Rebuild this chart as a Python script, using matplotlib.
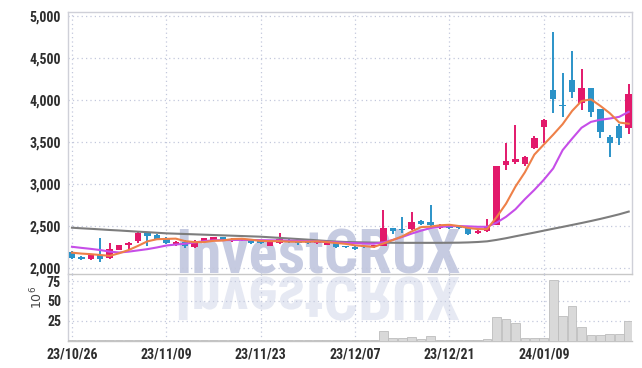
import numpy as np
import matplotlib
matplotlib.use("Agg")
import matplotlib.pyplot as plt
from matplotlib import font_manager
from matplotlib.textpath import TextPath
from matplotlib.patches import PathPatch
from matplotlib.font_manager import FontProperties
from matplotlib.transforms import Affine2D, IdentityTransform

# daily candles 23/10/26 .. 24/01/22 (60 trading days)
opens = [2185, 2135, 2103, 2150, 2115, 2218, 2274, 2327, 2413, 2389,
         2353, 2274, 2313, 2246, 2325, 2325, 2365, 2335, 2330, 2321,
         2321, 2265, 2294, 2333, 2320, 2321, 2294, 2280, 2300, 2258,
         2253, 2255, 2246, 2265, 2476, 2455, 2464, 2563, 2547, 2476,
         2500, 2478, 2476, 2413, 2437, 2516, 3230, 3265, 3234, 3428,
         3674, 4119, 3935, 4238, 3969, 4140, 3889, 3555, 3690, 3662]
closes = [2120, 2105, 2165, 2110, 2225, 2274, 2298, 2413, 2380, 2349,
          2294, 2313, 2262, 2325, 2353, 2365, 2333, 2348, 2345, 2294,
          2294, 2321, 2345, 2306, 2300, 2294, 2321, 2321, 2253, 2253,
          2230, 2250, 2270, 2476, 2437, 2450, 2547, 2524, 2508, 2516,
          2480, 2474, 2405, 2444, 2491, 3214, 3274, 3297, 3317, 3547,
          3762, 4016, 3925, 4099, 4140, 3861, 3623, 3492, 3543, 4071]
highs = [2200, 2140, 2170, 2353, 2294, 2280, 2305, 2425, 2420, 2400,
         2370, 2320, 2330, 2330, 2360, 2372, 2370, 2355, 2350, 2325,
         2325, 2325, 2413, 2340, 2325, 2330, 2325, 2330, 2305, 2265,
         2258, 2262, 2275, 2690, 2480, 2603, 2666, 2570, 2746, 2520,
         2510, 2490, 2480, 2450, 2580, 3214, 3484, 3698, 3333, 3571,
         3770, 4813, 4317, 4587, 4364, 4140, 3889, 3583, 3714, 4190]
lows = [2110, 2095, 2100, 2075, 2110, 2210, 2215, 2300, 2265, 2330,
        2285, 2260, 2234, 2240, 2320, 2320, 2330, 2310, 2325, 2290,
        2290, 2260, 2285, 2300, 2280, 2290, 2290, 2275, 2240, 2240,
        2220, 2240, 2240, 2260, 2400, 2413, 2455, 2515, 2500, 2470,
        2470, 2460, 2395, 2405, 2430, 2510, 3170, 3238, 3214, 3420,
        3484, 3841, 3793, 4020, 3880, 3793, 3543, 3325, 3460, 3595]
volume = [0.6, 0.5, 0.7, 0.9, 0.8, 0.6, 0.5, 0.9, 0.7, 0.6,
          0.5, 0.5, 0.6, 0.7, 0.5, 0.5, 0.4, 0.4, 0.5, 0.4,
          0.4, 0.5, 0.9, 0.5, 0.4, 0.4, 0.5, 0.5, 0.6, 0.5,
          0.6, 0.5, 0.6, 12.0, 3.5, 3.5, 4.4, 2.5, 5.7, 1.0,
          0.8, 0.6, 1.0, 0.8, 1.5, 29.7, 27.0, 21.7, 3.0, 3.5,
          3.5, 76.0, 30.5, 43.0, 17.0, 6.5, 6.5, 7.8, 7.8, 24.6]
ma5 = [2183, 2172, 2165, 2155, 2145, 2176, 2214, 2264, 2318, 2343,
       2347, 2350, 2320, 2309, 2309, 2324, 2328, 2345, 2349, 2337,
       2323, 2320, 2320, 2314, 2313, 2313, 2317, 2309, 2298, 2288,
       2270, 2261, 2251, 2292, 2333, 2377, 2436, 2487, 2493, 2509,
       2515, 2500, 2477, 2464, 2463, 2606, 2766, 2970, 3140, 3350,
       3470, 3588, 3713, 3870, 3988, 4008, 3930, 3843, 3732, 3718]
ma20 = [2253, 2240, 2228, 2214, 2195, 2185, 2195, 2210, 2225, 2245,
        2268, 2280, 2290, 2305, 2320, 2330, 2332, 2334, 2335, 2334,
        2332, 2330, 2328, 2326, 2323, 2320, 2316, 2312, 2306, 2300,
        2296, 2292, 2290, 2305, 2335, 2370, 2410, 2445, 2476, 2490,
        2498, 2500, 2496, 2491, 2491, 2540, 2610, 2700, 2820, 2930,
        3050, 3186, 3404, 3540, 3670, 3740, 3765, 3780, 3800, 3860]
ma120 = [2480, 2473, 2467, 2460, 2453, 2447, 2440, 2433, 2427, 2420,
         2413, 2409, 2405, 2401, 2397, 2393, 2389, 2385, 2381, 2377,
         2373, 2366, 2359, 2352, 2345, 2338, 2330, 2322, 2315, 2310,
         2307, 2305, 2303, 2302, 2301, 2300, 2300, 2300, 2300, 2300,
         2301, 2302, 2305, 2310, 2318, 2335, 2355, 2378, 2400, 2422,
         2445, 2468, 2490, 2513, 2536, 2560, 2585, 2612, 2640, 2672]
tick_pos = [0, 10, 20, 30, 40, 50]
tick_labels = ["23/10/26", "23/11/09", "23/11/23", "23/12/07", "23/12/21", "24/01/09"]

pink = "#e2196b"
blue = "#2b93c8"
grid_c = "#c3c8dc"
txt_c = "#2e2e2e"

names = {f.name for f in font_manager.fontManager.ttflist}
font = next((n for n in ["Roboto Condensed", "Liberation Sans Narrow", "DejaVu Sans"] if n in names), "DejaVu Sans")

fig = plt.figure(figsize=(6.42, 3.68), dpi=100)
ax = fig.add_axes([68 / 642, 1 - 274 / 368, 564 / 642, 262 / 368])
axv = fig.add_axes([68 / 642, 1 - 340.5 / 368, 564 / 642, 66.5 / 368], sharex=ax)

o = np.array(opens)
c = np.array(closes)
x = np.arange(len(c))
col = np.where(c >= o, pink, blue)

ax.vlines(x, lows, highs, colors=col, lw=1.4, zorder=3)
ax.bar(x, np.maximum(np.abs(c - o), 10), bottom=np.minimum(o, c), width=0.68,
       color=col, zorder=4)
ax.plot(x, ma120, color="#7d7d7d", lw=1.5, zorder=5)
ax.plot(x, ma20, color="#c64ee8", lw=1.5, zorder=6)
ax.plot(x, ma5, color="#ee8048", lw=1.5, zorder=7)

axv.bar(x, volume, width=0.92, color="#d9d9d9", edgecolor="#bdbdbd", lw=0.6, zorder=3)

ax.set_xlim(-0.42, 59.35)
ax.set_ylim(1929, 5048)
ax.set_yticks([2000, 2500, 3000, 3500, 4000, 4500, 5000])
ax.set_yticklabels(["2,000", "2,500", "3,000", "3,500", "4,000", "4,500", "5,000"])
axv.set_ylim(0, 84)
axv.set_yticks([25, 50, 75])
axv.set_xticks(tick_pos)
axv.set_xticklabels(tick_labels)
ax.tick_params(axis="x", labelbottom=False)

for a in (ax, axv):
    a.set_facecolor("none")
    a.grid(True, color=grid_c, ls=(0, (1, 2.5)), lw=0.9, zorder=1)
    a.tick_params(length=0, labelsize=10, labelcolor=txt_c, pad=5)
    for lab in a.get_xticklabels() + a.get_yticklabels():
        lab.set_fontfamily(font)
        lab.set_fontweight("bold")
    for s in a.spines.values():
        s.set_color("#cfd0d8")
        s.set_linewidth(1.0)
ax.spines["bottom"].set_color("#c8c8c8")
axv.spines["top"].set_visible(False)
axv.spines["bottom"].set_color("#c4c4c4")
axv.spines["right"].set_visible(False)

axv.set_ylabel(r"$10^6$", fontsize=9, color="#444444")
axv.yaxis.set_label_coords(-0.04, 0.65)

# watermark with its reflection
wm_fp = FontProperties(family=font, weight="bold")
wm = fig.text(175 / 642, 95 / 368, "InvestCRUX", fontproperties=wm_fp, fontsize=40,
              color="#c6cbe1", va="baseline", zorder=-1)
r = fig.canvas.get_renderer()
w = wm.get_window_extent(r).width
fs = 40 * 285 / w
wm.set_fontsize(fs)
tp = TextPath((0, 0), "InvestCRUX", size=fs * 100 / 72, prop=wm_fp)
refl = PathPatch(tp, color="#e6e9f3", lw=0,
                 transform=Affine2D().scale(1, -1).translate(175, 91) + IdentityTransform())
refl.set_zorder(-1)
fig.add_artist(refl)

fig.savefig("out.png", dpi=100, facecolor="white")
plt.close(fig)
